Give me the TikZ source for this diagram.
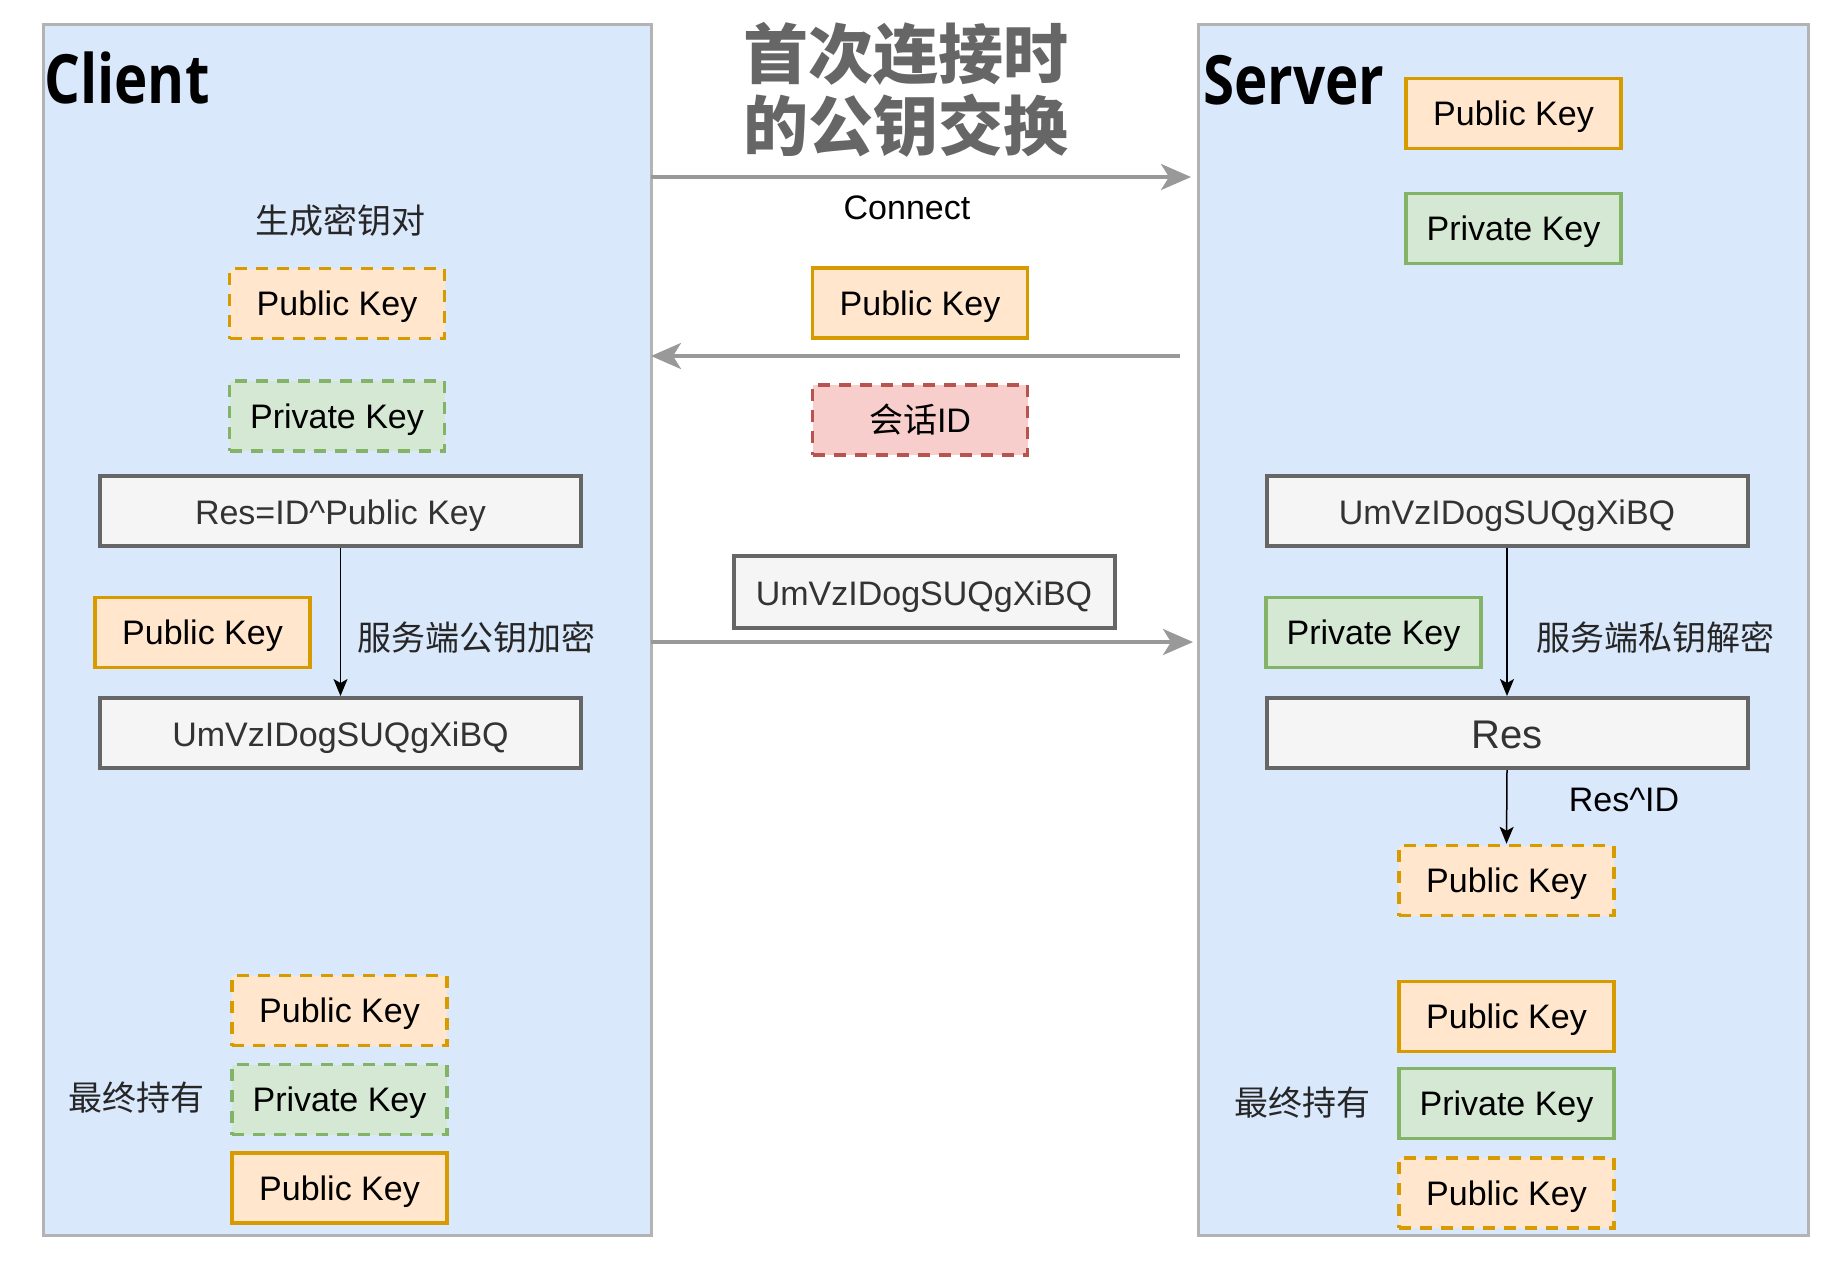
\documentclass[tikz,border=0pt]{standalone}
\usepackage{fontspec}
\setmainfont{Liberation Sans}
\newfontfamily\cjk{Noto Sans CJK SC}
\newfontfamily\headfont[FakeStretch=0.83]{Open Sans}
\usetikzlibrary{arrows.meta}
\definecolor{cfill}{HTML}{DAE8FC}
\definecolor{cstroke}{HTML}{B3B3B3}
\definecolor{arrowgray}{HTML}{999999}
\definecolor{ofill}{HTML}{FFE6CC}
\definecolor{ostroke}{HTML}{D79B00}
\definecolor{gfill}{HTML}{D5E8D4}
\definecolor{gstroke}{HTML}{82B366}
\definecolor{rfill}{HTML}{F8CECC}
\definecolor{rstroke}{HTML}{B85450}
\definecolor{boxfill}{HTML}{F5F5F5}
\definecolor{boxstroke}{HTML}{666666}
\definecolor{titlegray}{HTML}{666666}
\definecolor{txtgray}{HTML}{333333}
\begin{document}
\begin{tikzpicture}[x=1pt,y=-1pt,
  keybox/.style={draw, line width=3.5pt, minimum width=215pt, minimum height=70pt, inner sep=0pt, text height=30pt, text depth=5.5pt, font=\fontsize{34}{40}\selectfont},
  pubkey/.style={keybox, fill=ofill, draw=ostroke},
  privkey/.style={keybox, fill=gfill, draw=gstroke},
  sidbox/.style={keybox, fill=rfill, draw=rstroke},
  dashedline/.style={dash pattern=on 12pt off 9pt},
  databox/.style={draw=boxstroke, fill=boxfill, line width=4pt, minimum width=481pt, minimum height=70pt, inner sep=0pt, text height=31pt, text depth=4pt, text=txtgray, font=\fontsize{34}{40}\selectfont},
  container/.style={draw=cstroke, fill=cfill, line width=3pt, inner sep=0pt},
  flow/.style={draw=arrowgray, line width=3.5pt, -{Stealth[length=30pt,width=26pt,inset=8pt]}},
  downarrow/.style={draw=black, line width=1.5pt, -{Stealth[length=17pt,width=14pt,inset=4pt]}},
  lbl/.style={font=\fontsize{34}{40}\selectfont\cjk, inner sep=0pt, text=black!85},
  heading/.style={font=\fontsize{68}{70}\selectfont\headfont\bfseries, inner sep=0pt, anchor=base west},
]
\useasboundingbox (0,0) rectangle (1836,1262);
\fill[white] (0,0) rectangle (1836,1262);

% containers
\node[container, minimum width=608pt, minimum height=1211pt, anchor=north west] (client) at (41.5,22.5) {};
\node[container, minimum width=610pt, minimum height=1211pt, anchor=north west] (server) at (1196.5,22.5) {};

% headings
\node[heading] (clienttxt) at (44,103) {Client};
\node[heading] (servertxt) at (1203,104) {Server};

% title
\node[font=\fontsize{65}{72}\selectfont\cjk\bfseries, text=titlegray, align=center, inner sep=0pt] (title) at (906,90) {首次连接时\\的公钥交换};

% client content
\node[lbl] (gen) at (340,221) {生成密钥对};
\node[pubkey, dashedline] (cpub1) at (337,303.5) {Public Key};
\node[privkey, dashedline] (cpriv1) at (337,416) {Private Key};
\node[databox] (cres) at (340.5,510.5) {Res=ID\textasciicircum Public Key};
\node[pubkey] (cpub2) at (202.5,632.5) {Public Key};
\node[databox] (cenc) at (340.5,733) {UmVzIDogSUQgXiBQ};
\node[lbl] (enclbl) at (476,637) {服务端公钥加密};
\draw[downarrow] (cres.south) -- (cenc.north);
\node[pubkey, dashedline] (cfin1) at (339.5,1010.5) {Public Key};
\node[privkey, dashedline] (cfin2) at (339.5,1099.5) {Private Key};
\node[pubkey] (cfin3) at (339.5,1188) {Public Key};
\node[lbl] (hold1) at (136,1098) {最终持有};

% middle
\coordinate (a1s) at (651,177);
\coordinate (a1e) at (1191,177);
\draw[flow] (a1s) -- (a1e);
\node[font=\fontsize{34}{40}\selectfont, inner sep=0pt] (conn) at (907,208) {Connect};
\node[pubkey] (mpub) at (920,303) {Public Key};
\coordinate (a2s) at (1180,356);
\coordinate (a2e) at (651,356);
\draw[flow] (a2s) -- (a2e);
\node[sidbox, dashedline] (msid) at (920,420) {{\cjk 会话}ID};
\node[databox, minimum width=381pt, minimum height=72pt] (menc) at (924,591.5) {UmVzIDogSUQgXiBQ};
\coordinate (a3s) at (651,642);
\coordinate (a3e) at (1193,642);
\draw[flow] (a3s) -- (a3e);

% server content
\node[pubkey] (spub1) at (1513.5,113.5) {Public Key};
\node[privkey] (spriv1) at (1513.5,228.5) {Private Key};
\node[databox] (senc) at (1507,510.5) {UmVzIDogSUQgXiBQ};
\node[privkey] (spriv2) at (1373.5,632.5) {Private Key};
\node[databox, font=\fontsize{40}{46}\selectfont, text height=34pt, text depth=4pt] (sres) at (1507,733) {Res};
\draw[downarrow] (senc.south) -- (sres.north);
\node[lbl] (declbl) at (1655,637) {服务端私钥解密};
\node[pubkey, dashedline] (spub2) at (1506.5,880.5) {Public Key};
\draw[downarrow] (sres.south) -- (spub2.north);
\node[font=\fontsize{34}{40}\selectfont, inner sep=0pt] (resid) at (1624,800) {Res\textasciicircum ID};
\node[pubkey] (sfin1) at (1506.5,1016.5) {Public Key};
\node[privkey] (sfin2) at (1506.5,1103.5) {Private Key};
\node[pubkey, dashedline] (sfin3) at (1506.5,1193) {Public Key};
\node[lbl] (hold2) at (1302,1103) {最终持有};
\end{tikzpicture}
\end{document}
